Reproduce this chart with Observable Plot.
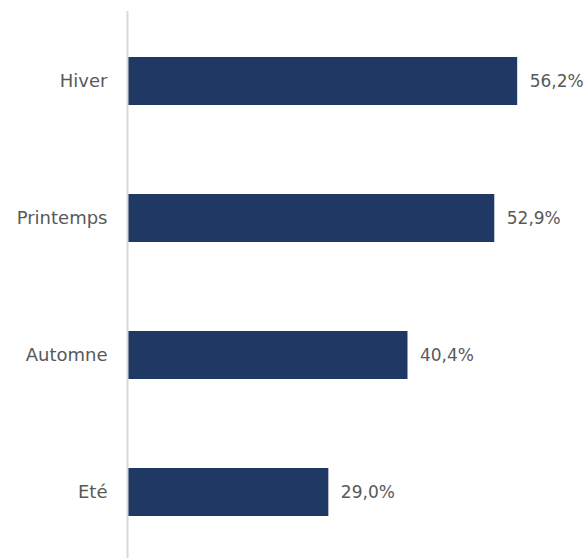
<!DOCTYPE html>
<html><head><meta charset="utf-8">
<script src="https://cdn.jsdelivr.net/npm/d3@7"></script>
<script src="https://cdn.jsdelivr.net/npm/@observablehq/plot@0.6"></script>
<style>body{margin:0;background:#fff;}</style>
</head><body><div id="chart"></div>
<script>
const categories = ["Hiver", "Printemps", "Automne", "Eté"];
const values = [56.2, 52.9, 40.4, 29.0];
const labels = ["56,2%", "52,9%", "40,4%", "29,0%"];
const data = categories.map((c, i) => ({cat: c, v: values[i], label: labels[i]}));
const chart = Plot.plot({
  width: 588, height: 558,
  marginLeft: 127, marginRight: 0, marginTop: 11, marginBottom: -3,
  style: {fontFamily: "DejaVu Sans", fontSize: "17px", color: "#595959", background: "#fff"},
  x: {domain: [0, 66.4], axis: null},
  y: {domain: categories, paddingInner: 0.65, paddingOuter: 0.325, axis: null},
  marks: [
    Plot.barX(data, {x: "v", y: "cat", fill: "#203864"}),
    Plot.ruleX([0], {stroke: "#d9d9d9", strokeWidth: 2}),
    Plot.axisY({label: null, tickSize: 0, tickPadding: 20, fontSize: 18, fill: "#595959"}),
    Plot.text(data, {x: "v", y: "cat", text: "label", textAnchor: "start", dx: 12, fill: "#595959", fontSize: 17})
  ]
});
document.getElementById("chart").append(chart);
</script></body></html>
